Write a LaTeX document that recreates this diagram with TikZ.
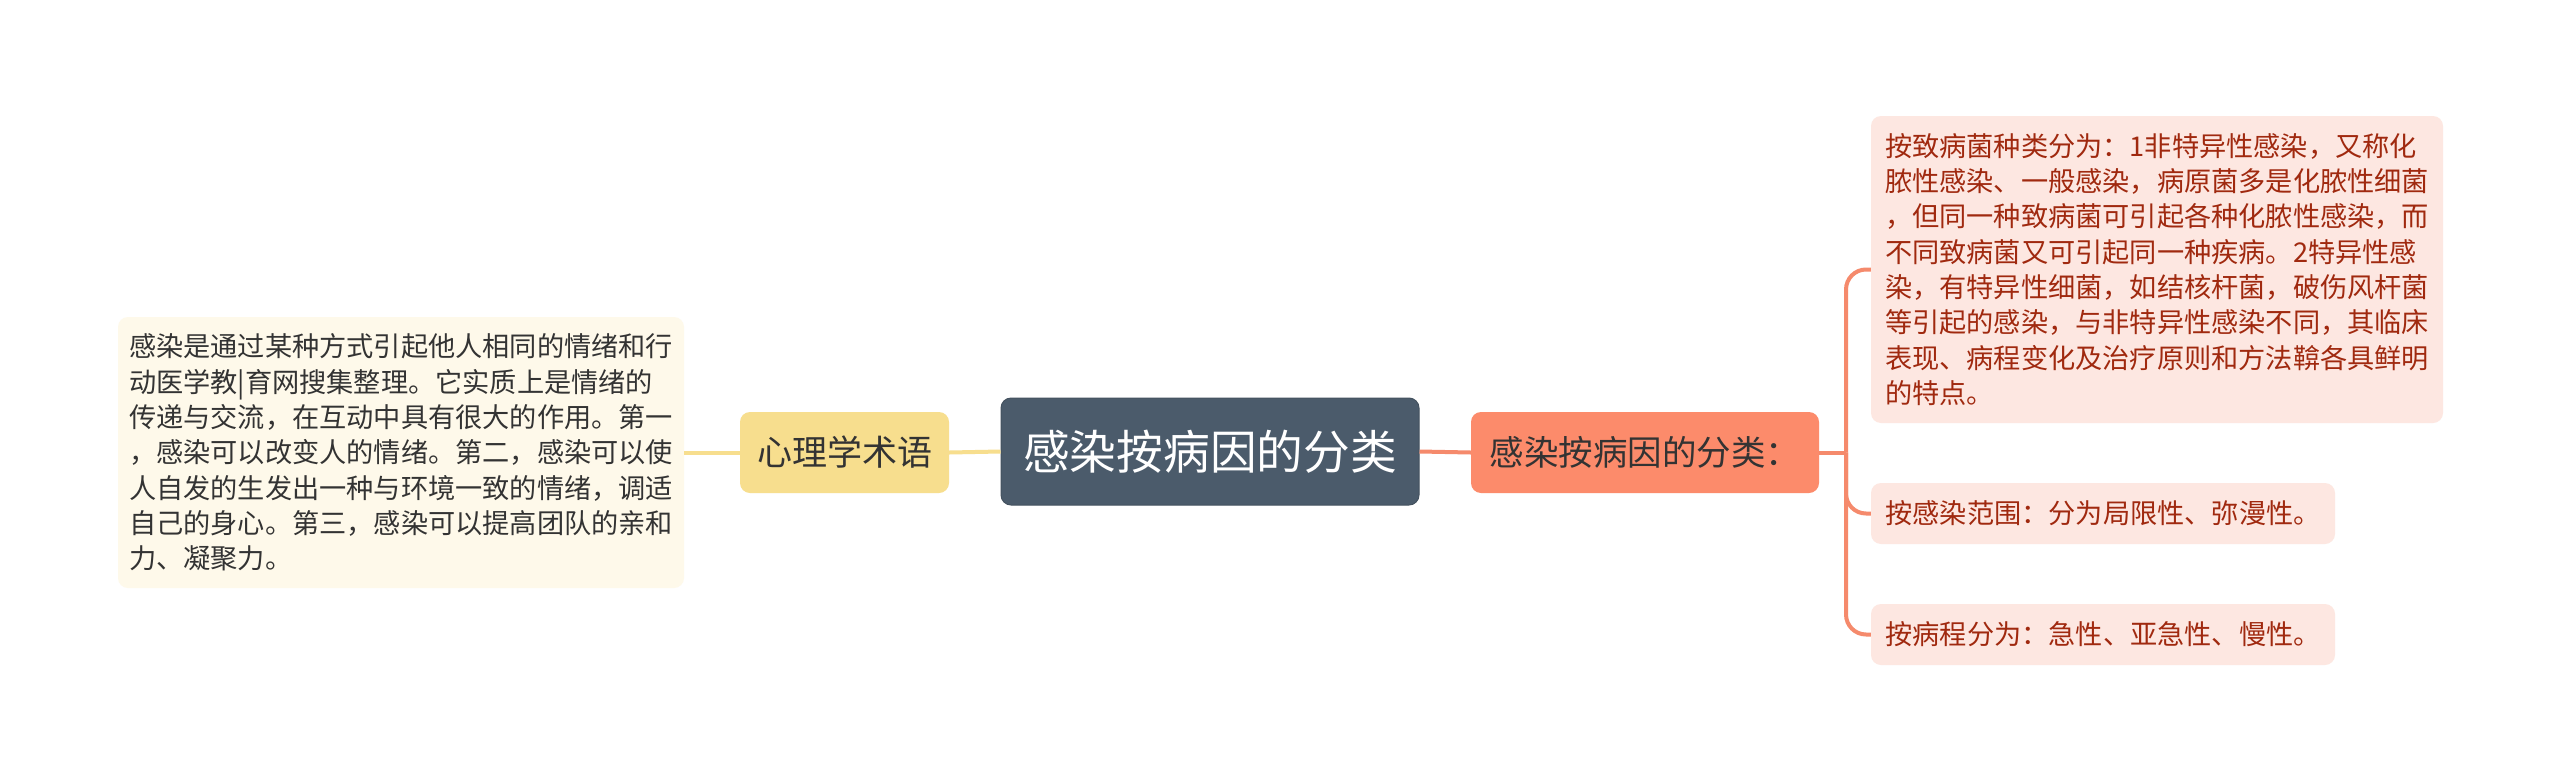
\documentclass[tikz,border=0pt]{standalone}
\usepackage{fontspec}
\newfontfamily\cjk{Noto Sans CJK SC}
\definecolor{creamfill}{HTML}{FEF9EA}
\definecolor{yellowfill}{HTML}{F7DE8E}
\definecolor{slatefill}{HTML}{4B5B6B}
\definecolor{slateline}{HTML}{44525F}
\definecolor{salmonfill}{HTML}{FC8B6B}
\definecolor{salmonline}{HTML}{F58A6C}
\definecolor{pinkfill}{HTML}{FDE7E1}
\definecolor{darktext}{HTML}{333333}
\definecolor{redtext}{HTML}{A0290F}
\tikzset{
  leaffont/.style={font=\cjk\fontsize{27.2}{35.3}\selectfont},
  leftleaf/.style={leaffont, fill=creamfill, rounded corners=10pt, text=darktext, align=left,
    minimum width=566pt, minimum height=271pt, inner xsep=11pt},
  rightleaf/.style={leaffont, fill=pinkfill, rounded corners=10pt, text=redtext, align=left,
    inner xsep=14pt},
  yellownode/.style={font=\cjk\fontsize{35}{40}\selectfont, fill=yellowfill, rounded corners=10pt,
    text=darktext, minimum width=209pt, minimum height=81pt},
  salmonnode/.style={font=\cjk\fontsize{34.5}{40}\selectfont, fill=salmonfill, rounded corners=10pt,
    text=darktext, minimum width=348pt, minimum height=81pt},
  rootnode/.style={font=\cjk\fontsize{46.7}{52}\selectfont, fill=slatefill, draw=slateline, line width=1pt,
    rounded corners=10pt, text=white, minimum width=418pt, minimum height=107pt},
  yline/.style={draw=yellowfill, line width=4pt},
  sline/.style={draw=salmonline, line width=4pt},
}
\begin{document}
\begin{tikzpicture}[x=1pt,y=-1pt]
\useasboundingbox[fill=white] (0,0) rectangle (2560,782);

\node[rootnode] (root) at (1210,451.5) {感染按病因的分类};
\node[yellownode] (psy) at (844.5,452.5) {心理学术语};
\node[salmonnode] (cls) at (1645,452.5) {感染按病因的分类：};

\node[leftleaf] (ldesc) at (401,452.5) {感染是通过某种方式引起他人相同的情绪和行\\动医学教|育网搜集整理。它实质上是情绪的\\传递与交流，在互动中具有很大的作用。第一\\，感染可以改变人的情绪。第二，感染可以使\\人自发的生发出一种与环境一致的情绪，调适\\自己的身心。第三，感染可以提高团队的亲和\\力、凝聚力。};

\node[rightleaf, minimum width=572pt, minimum height=307pt] (r1) at (2157,269.5) {按致病菌种类分为：1非特异性感染，又称化\\脓性感染、一般感染，病原菌多是化脓性细菌\\，但同一种致病菌可引起各种化脓性感染，而\\不同致病菌又可引起同一种疾病。2特异性感\\染，有特异性细菌，如结核杆菌，破伤风杆菌\\等引起的感染，与非特异性感染不同，其临床\\表现、病程变化及治疗原则和方法鞥各具鲜明\\的特点。};
\node[rightleaf, minimum width=464pt, minimum height=61pt] (r2) at (2103,513.5) {按感染范围：分为局限性、弥漫性。};
\node[rightleaf, minimum width=464pt, minimum height=61pt] (r3) at (2103,634.5) {按病程分为：急性、亚急性、慢性。};

\draw[yline] (ldesc.east) -- (psy.west);
\draw[yline] (psy.east) -- (root.west);
\draw[sline] (root.east) -- (cls.west);

\coordinate (j) at (1846,452.5);
\draw[sline] (cls.east) -- (j);
\draw[sline, rounded corners=20pt] (j) |- (r1.west);
\draw[sline, rounded corners=20pt] (j) |- (r2.west);
\draw[sline, rounded corners=20pt] (j) |- (r3.west);
\end{tikzpicture}
\end{document}
